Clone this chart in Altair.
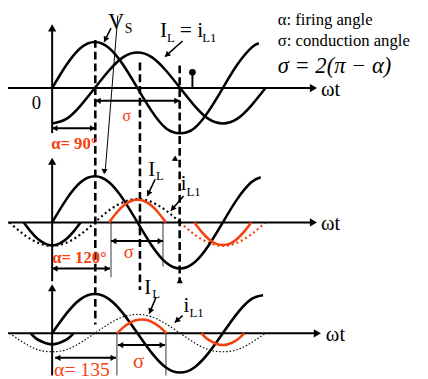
import math
import altair as alt
import pandas as pd

# ---------------- values ----------------
# ωt in degrees, amplitudes in units of each panel's source-voltage peak
p1_vs_x = [0, 30, 60, 90, 120, 150, 180, 210, 240, 270, 300, 330, 360, 390, 420, 436]
p1_vs_v = [0, 0.5, 0.87, 1, 0.87, 0.5, 0, -0.5, -0.87, -0.98, -0.87, -0.5, 0, 0.5, 0.87, 0.97]
p1_il_x = [0, 30, 60, 90, 120, 150, 180, 210, 240, 270, 300, 330, 360, 390, 420, 450]
p1_il_v = [-0.77, -0.67, -0.38, 0, 0.38, 0.67, 0.77, 0.67, 0.38, 0, -0.38, -0.67, -0.77, -0.67, -0.38, 0]

p2_vs_x = [0, 30, 60, 90, 120, 150, 180, 210, 240, 270, 300, 330, 360, 390, 420, 440]
p2_vs_v = [0, 0.5, 0.87, 1, 0.87, 0.5, 0, -0.5, -0.87, -1, -0.87, -0.5, 0, 0.5, 0.87, 0.98]
p2_il1_x = [-90, -60, -30, 0, 30, 60, 90, 120, 150, 180, 210, 240, 270]
p2_il1_v = [0, -0.26, -0.44, -0.51, -0.44, -0.26, 0, 0.26, 0.44, 0.51, 0.44, 0.26, 0]
p2_il1r_x = [270, 300, 330, 360, 390, 420, 450]
p2_il1r_v = [0, -0.26, -0.44, -0.51, -0.44, -0.26, 0]
p2_pos_x = [120, 135, 150, 165, 180, 195, 210, 225, 240]
p2_pos_v = [0, 0.2, 0.36, 0.46, 0.49, 0.46, 0.36, 0.2, 0]
p2_neg_x = [300, 315, 330, 345, 360, 375, 390, 405, 420]
p2_neg_v = [0, -0.2, -0.36, -0.46, -0.49, -0.46, -0.36, -0.2, 0]
p2_prev_x = [-60, -45, -30, -15, 0, 15, 30, 45, 60]
p2_prev_v = [0, -0.2, -0.36, -0.46, -0.5, -0.46, -0.36, -0.2, 0]

p3_vs_x = [0, 30, 60, 90, 120, 150, 180, 210, 240, 270, 300, 330, 360, 390, 420, 445]
p3_vs_v = [0, 0.5, 0.87, 1, 0.87, 0.5, 0, -0.5, -0.87, -1, -0.87, -0.5, 0, 0.5, 0.87, 0.97]
p3_il1_x = [-90, -60, -30, 0, 30, 60, 90, 120, 150, 180, 210, 240, 270, 300, 330, 360, 390, 420, 450]
p3_il1_v = [0, -0.24, -0.42, -0.47, -0.42, -0.24, 0, 0.24, 0.42, 0.48, 0.42, 0.24, 0,
            -0.24, -0.42, -0.47, -0.42, -0.24, 0]
p3_pos_x = [137, 150, 163, 176, 189, 202, 215, 228, 241]
p3_pos_v = [0, 0.15, 0.26, 0.33, 0.35, 0.33, 0.26, 0.15, 0]
p3_neg_x = [315, 326, 338, 349, 360, 371, 383, 394, 405]
p3_neg_v = [0, -0.13, -0.22, -0.28, -0.3, -0.28, -0.22, -0.13, 0]
p3_prev_x = [-45, -34, -22, -11, 0, 11, 22, 34, 45]
p3_prev_v = [0, -0.13, -0.21, -0.26, -0.28, -0.26, -0.21, -0.13, 0]

# ---------------- layout (page pixels) ----------------
X0 = 53.0          # where ωt = 0
PXD = 0.4833       # pixels per degree
BASE = {1: 86, 2: 223, 3: 336}
AMP = {1: 47, 2: 47, 3: 40}
RED = "#f5400f"
FONT = "'Liberation Serif', 'DejaVu Serif', serif"


def deg(px):
    return (px - X0) / PXD


def ypos(p, v):
    return BASE[p] - AMP[p] * v


XS = alt.Scale(domain=[deg(8), deg(428)], nice=False, zero=False)
YS = alt.Scale(domain=[8, 379], reverse=True, nice=False, zero=False)


def curve_df(items):
    rows = []
    for name, p, xs, vs in items:
        for i, (x, v) in enumerate(zip(xs, vs)):
            rows.append({"id": name, "i": i, "x": x, "y": ypos(p, v)})
    return pd.DataFrame(rows)


def lines(items, **mk):
    return alt.Chart(curve_df(items)).mark_line(interpolate="natural", **mk).encode(
        x=alt.X("x:Q", scale=XS, axis=None),
        y=alt.Y("y:Q", scale=YS, axis=None),
        detail="id:N",
        order="i:Q",
    )


solid = lines([
    ("vs1", 1, p1_vs_x, p1_vs_v), ("il1", 1, p1_il_x, p1_il_v),
    ("vs2", 2, p2_vs_x, p2_vs_v), ("prev2", 2, p2_prev_x, p2_prev_v),
    ("vs3", 3, p3_vs_x, p3_vs_v), ("prev3", 3, p3_prev_x, p3_prev_v),
], color="black", strokeWidth=2.6)
red = lines([
    ("pos2", 2, p2_pos_x, p2_pos_v), ("neg2", 2, p2_neg_x, p2_neg_v),
    ("pos3", 3, p3_pos_x, p3_pos_v), ("neg3", 3, p3_neg_x, p3_neg_v),
], color=RED, strokeWidth=2.6)
dot2 = lines([("f2", 2, p2_il1_x, p2_il1_v)], color="black", strokeWidth=2.2, strokeDash=[2, 3])
dot2r = lines([("f2r", 2, p2_il1r_x, p2_il1r_v)], color=RED, strokeWidth=2.2, strokeDash=[2, 3])
dot3 = lines([("f3", 3, p3_il1_x, p3_il1_v)], color="black", strokeWidth=1.2, strokeDash=[1.5, 2])


def rules(segs, **mk):
    df = pd.DataFrame([{"x": deg(a), "y": b, "x2": deg(c), "y2": d} for a, b, c, d in segs])
    return alt.Chart(df).mark_rule(**mk).encode(
        x=alt.X("x:Q", scale=XS, axis=None), y=alt.Y("y:Q", scale=YS, axis=None),
        x2="x2:Q", y2="y2:Q")


axes = rules([
    (7, 86, 318, 86), (7, 223, 318, 223), (7, 336, 322, 336),
    (53, 132, 53, 28), (53, 283, 53, 164), (53, 379, 53, 293),
    (196, 86, 196, 72),
], color="black", strokeWidth=2)
dashed = rules([
    (97, 37, 97, 327), (142.5, 60, 142.5, 292), (183, 63, 183, 284),
], color="black", strokeWidth=2.6, strokeDash=[8, 4])
thin_long = rules([(120, 12, 107, 172)], color="black", strokeWidth=1)
ann = [
    (113, 25, 106, 39), (186, 38, 168, 54), (158, 179, 150, 196),
    (187, 196, 174, 211), (159, 299, 152, 316), (186, 318, 178, 325),
]
pointers = rules(ann, color="black", strokeWidth=1.6)
dbl = [
    (97, 99, 183, 99), (53, 127, 97, 127), (113, 242, 166, 242),
    (53, 270, 112, 270), (120, 348, 168, 348), (56, 361, 118, 361),
]
dbl_rules = rules(dbl, color="black", strokeWidth=2)
gray = rules([(113, 223, 113, 279), (166, 223, 166, 268), (119, 336, 119, 379), (169, 336, 169, 379)],
             color="#555555", strokeWidth=1.2)


def heads(items, size):
    rows = []
    h = math.sqrt(3) * (math.sqrt(size) / 2) / 2
    for (tx, ty, dx, dy) in items:
        n = math.hypot(dx, dy)
        ux, uy = dx / n, dy / n
        cx, cy = tx - ux * h, ty - uy * h
        ang = (math.degrees(math.atan2(ux, -uy)) + 360) % 360
        rows.append({"x": deg(cx), "y": cy, "a": ang})
    return alt.Chart(pd.DataFrame(rows)).mark_point(
        shape="triangle-up", filled=True, color="black", opacity=1, size=size).encode(
        x=alt.X("x:Q", scale=XS, axis=None), y=alt.Y("y:Q", scale=YS, axis=None),
        angle=alt.Angle("a:Q", scale=None))


axis_heads = heads([(323, 86, 1, 0), (323, 223, 1, 0), (327, 336, 1, 0),
                    (53, 21, 0, -1), (53, 157, 0, -1), (53, 286, 0, -1)], 70)
small = []
for a, b, c, d in dbl:
    small.append((a, b, -1, 0))
    small.append((c, d, 1, 0))
for a, b, c, d in ann:
    small.append((c, d, c - a, d - b))
small.append((106, 174, 106 - 120, 174 - 12))
small.append((175, 160, -1, 0.5))
small.append((180, 285, -1, 0.6))
small_heads = heads(small, 40)

dot_head = alt.Chart(pd.DataFrame([{"x": deg(196), "y": 70}])).mark_point(
    shape="circle", filled=True, color="black", opacity=1, size=45).encode(
    x=alt.X("x:Q", scale=XS, axis=None), y=alt.Y("y:Q", scale=YS, axis=None))


def txt(t, px, py, size, color="black", weight="normal", style="normal", align="left", base="alphabetic"):
    return alt.Chart(pd.DataFrame([{"x": deg(px), "y": py, "t": t}])).mark_text(
        font=FONT, fontSize=size, color=color, fontWeight=weight, fontStyle=style,
        align=align, baseline=base).encode(
        x=alt.X("x:Q", scale=XS, axis=None), y=alt.Y("y:Q", scale=YS, axis=None), text="t:N")


texts = [
    txt("ωt", 327, 94, 21), txt("ωt", 327, 231, 21), txt("ωt", 332, 344, 21),
    txt("0", 37, 107, 19, align="center"),
    txt("V", 110, 26, 23), txt("S", 127, 30, 14),
    txt("I", 163, 34, 22), txt("L", 170, 39, 13), txt("= i", 183, 34, 22), txt("L1", 206, 39, 13),
    txt("α: firing angle", 283, 22, 17),
    txt("σ: conduction angle", 283, 43, 17),
    txt("σ = 2(π − α)", 283, 71, 23, style="italic"),
    txt("σ", 129, 120, 16, color=RED, align="center"),
    txt("α= 90°", 52, 148, 17, color=RED, weight="bold"),
    txt("I", 151, 176, 21), txt("L", 159, 180, 13),
    txt("i", 184, 190, 21), txt("L1", 190, 196, 13),
    txt("σ", 131, 259, 19, color=RED, align="center"),
    txt("α= 120°", 53, 264, 17, color=RED, weight="bold"),
    txt("I", 147, 296, 21), txt("L", 155, 300, 13),
    txt("i", 187, 314, 21), txt("L1", 193, 319, 13),
    txt("σ", 141, 371, 21, color=RED, align="center"),
    txt("α= 135", 55, 380, 20, color=RED),
]

chart = alt.layer(
    dot3, dot2, dot2r, gray, axes, dashed, solid, red, thin_long, pointers, dbl_rules,
    axis_heads, small_heads, dot_head, *texts
).properties(width=420, height=371, autosize="none", padding=0).configure_view(stroke=None)

chart.save("out.html", embed_options={"renderer": "svg", "actions": False})
